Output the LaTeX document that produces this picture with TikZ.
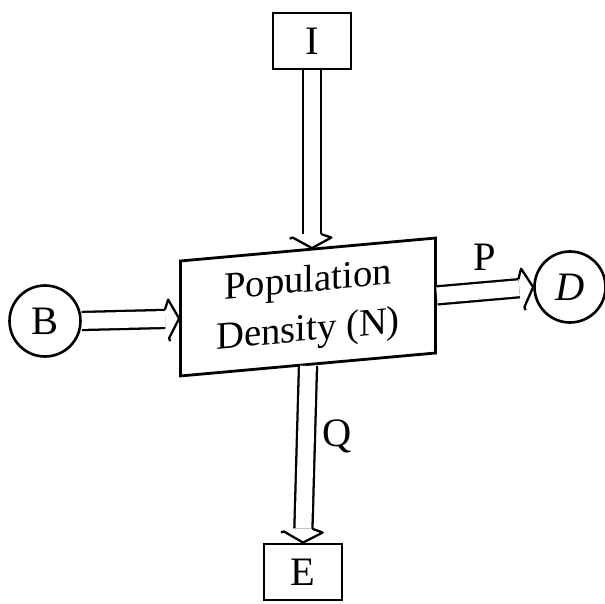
\documentclass[tikz,border=0pt]{standalone}
\usepackage{fontspec}
\setmainfont{Liberation Serif}
\usetikzlibrary{decorations.markings}

\begin{document}
\begin{tikzpicture}[x=0.02cm, y=-0.02cm,
    every node/.style={font=\fontsize{23}{27}\selectfont},
    tag/.style={draw, line width=1.6pt, minimum width=1.56cm, minimum height=1.12cm, inner sep=0pt},
    pool/.style={draw, circle, line width=1.5pt, minimum size=1.42cm, inner sep=0pt},
    % hollow arrow: two rails and an open head drawn at the end
    flow/.style={double, double distance=9pt, line width=1.3pt, shorten >=8pt,
      postaction={decorate, decoration={markings, mark=at position 1 with {
        \draw[line width=1.3pt, line join=round]
          (-8pt,5.15pt) -- (-6pt,11pt) -- (0pt,0pt) -- (-6pt,-11pt) -- (-8pt,-5.15pt);}}}}]
  \useasboundingbox (0,0) rectangle (605,604);
  % the state in the middle, a little slanted as in the drawing
  \node[draw, line width=1.6pt, minimum width=5.1cm, minimum height=2.3cm,
        align=center, yslant=0.09, font=\fontsize{22}{28}\selectfont] (pop) at (308,307) {Population\\Density (N)};
  \node[tag] (imm) at (312,41) {I};
  \node[tag] (emi) at (303,572) {E};
  \node[pool] (bir) at (45,321) {B};
  \node[pool] (dea) at (570,287) {\textit{D}};

  % flows in and out of the state
  \draw[flow] (imm.south) -- (imm.south |- pop.north);
  \draw[flow] (bir.east) -- (pop.west);
  \draw[flow] (pop.east) -- node[pos=0.5, above=0.4cm, inner sep=0pt] (plab) {P} (dea.west);
  \draw[flow] (pop.south) -- node[pos=0.4, right=0.3cm, inner sep=0pt] (qlab) {Q} (emi.north);
\end{tikzpicture}
\end{document}
